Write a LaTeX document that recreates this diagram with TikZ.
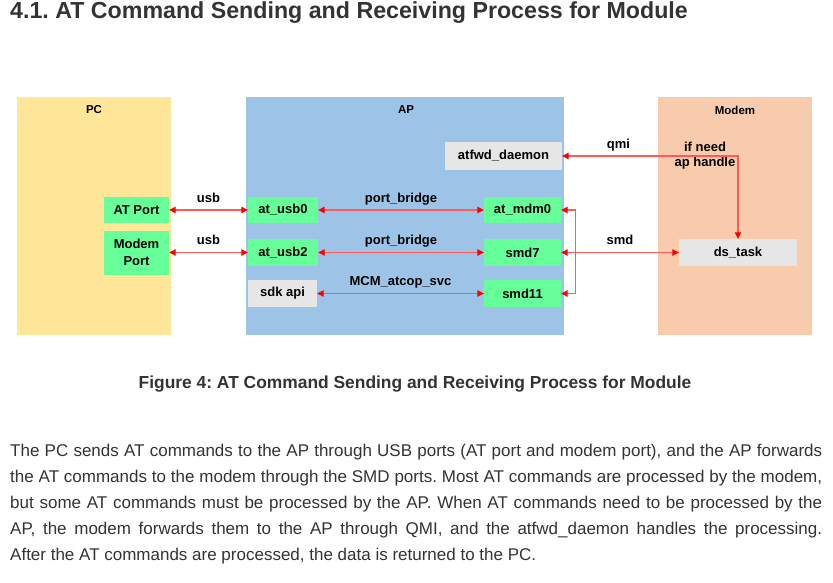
\documentclass[tikz,border=0pt]{standalone}
\usepackage{fontspec}
\setmainfont{Liberation Sans}
\usetikzlibrary{arrows.meta}
\definecolor{pcyellow}{HTML}{FFE699}
\definecolor{apblue}{HTML}{9DC3E6}
\definecolor{modemorange}{HTML}{F8CBAD}
\definecolor{portgreen}{HTML}{66FF99}
\definecolor{swgray}{HTML}{E7E6E6}
\definecolor{linkred}{HTML}{FF5A5A}
\definecolor{textgray}{HTML}{333333}
\frenchspacing

\begin{document}
\begin{tikzpicture}[x=1pt, y=-1pt,
    every node/.style={font=\bfseries\fontsize{13}{15}\selectfont},
    unitbox/.style={inner sep=0pt, minimum width=154pt, minimum height=238pt},
    unittitle/.style={font=\bfseries\fontsize{11.5}{13}\selectfont},
    portbox/.style={fill=portgreen, inner sep=0pt},
    swbox/.style={fill=swgray, inner sep=0pt},
    linkarrow/.style={draw=linkred, line width=1.1pt, <->, >={Triangle[length=6.5pt, width=6.5pt, color=red]}},
    linklabel/.style={above=2.5pt, inner sep=2pt, text height=9.5pt, text depth=2.5pt}]
        \useasboundingbox (0,0) rectangle (833,583);

        % Heading
        \node[anchor=base west, inner sep=0pt, text=textgray, font=\bfseries\fontsize{23.2}{28}\selectfont] (heading) at (10,19) {4.1. AT Command Sending and Receiving Process for Module};

        % Units: PC, AP, Modem
        \node[unitbox, fill=pcyellow] (pc) at (94,216) {};
        \node[unittitle] (pctitle) at (94,110) {PC};
        \node[unitbox, fill=apblue, minimum width=318pt] (ap) at (405,216) {};
        \node[unittitle] (aptitle) at (406,110) {AP};
        \node[unitbox, fill=modemorange] (modem) at (735,216) {};
        \node[unittitle] (modemtitle) at (735,110) {Modem};

        % PC ports
        \node[portbox, minimum width=65pt, minimum height=26pt] (atport) at (136.5,210) {AT Port};
        \node[portbox, minimum width=65pt, minimum height=44pt, align=center, font=\bfseries\fontsize{13}{17}\selectfont] (modemport) at (136.5,252.5) {Modem\\Port};

        % AP side
        \node[portbox, minimum width=70pt, minimum height=26pt] (atusb0) at (283,210) {at\_usb0};
        \node[portbox, minimum width=70pt, minimum height=27pt] (atusb2) at (283,252.5) {at\_usb2};
        \node[swbox, minimum width=69pt, minimum height=27pt] (sdkapi) at (282.5,293.5) {sdk api};
        \node[swbox, minimum width=117pt, minimum height=28pt] (atfwd) at (503.5,156) {atfwd\_daemon};
        \node[portbox, minimum width=77pt, minimum height=26pt] (atmdm0) at (522.5,210) {at\_mdm0};
        \node[portbox, minimum width=77pt, minimum height=27pt] (smd7) at (522.5,252.5) {smd7};
        \node[portbox, minimum width=77pt, minimum height=27pt] (smd11) at (522.5,293.5) {smd11};

        % Modem side
        \node[swbox, minimum width=118pt, minimum height=27pt] (dstask) at (738,252.5) {ds\_task};
        \node[align=center] (ifneed) at (705,155.5) {if need\\ap handle};

        % Links
        \draw[linkarrow] (atport) -- (atusb0) node[midway, linklabel] {usb};
        \draw[linkarrow] (modemport) -- (atusb2) node[midway, linklabel] {usb};
        \draw[linkarrow] (atusb0) -- (atmdm0) node[midway, linklabel] {port\_bridge};
        \draw[linkarrow] (atusb2) -- (smd7) node[midway, linklabel] {port\_bridge};
        \draw[linkarrow] (sdkapi) -- (smd11) node[midway, linklabel] {MCM\_atcop\_svc};
        \draw[linkarrow] (smd7) -- (dstask) node[midway, linklabel] {smd};
        \draw[linkarrow] (dstask) |- (atfwd) node[pos=0.84, linklabel] {qmi};
        \draw[linkarrow] (atmdm0.east) -- ++(14,0) |- (smd11.east);

        % Caption and text
        \node[anchor=base, inner sep=0pt, text=textgray, font=\bfseries\fontsize{17.4}{21}\selectfont] (caption) at (415,388) {Figure 4: AT Command Sending and Receiving Process for Module};
        \node[anchor=base west, inner sep=0pt, text width=812pt, align=justify, text=textgray, font=\fontsize{17}{26}\selectfont] (para) at (10,456) {The PC sends AT commands to the AP through USB ports (AT port and modem port), and the AP forwards\linebreak
        the AT commands to the modem through the SMD ports. Most AT commands are processed by the modem,\linebreak
        but some AT commands must be processed by the AP. When AT commands need to be processed by the\linebreak
        AP, the modem forwards them to the AP through QMI, and the atfwd\_daemon handles the processing.\linebreak
        After the AT commands are processed, the data is returned to the PC.};
    \end{tikzpicture}
\end{document}
